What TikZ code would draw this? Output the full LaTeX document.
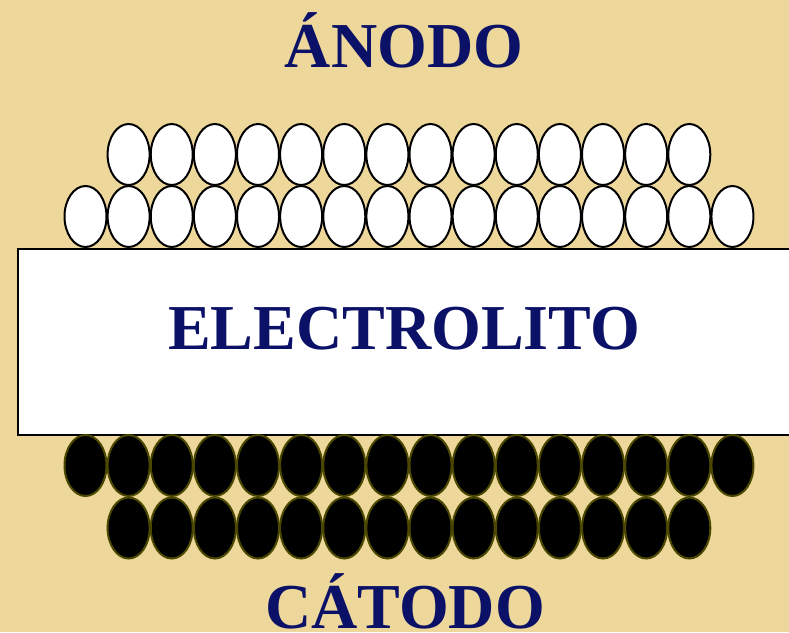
\documentclass[tikz,border=0pt]{standalone}
\usepackage{fontspec}
\setmainfont{Liberation Serif}
\usetikzlibrary{shapes.geometric}
\definecolor{bgtan}{HTML}{EDD79B}
\definecolor{txtblue}{HTML}{0A1166}
\definecolor{olive}{HTML}{4A4700}
\tikzset{
  whiteball/.style={ellipse, draw=black, line width=2pt, fill=white, minimum width=42pt, minimum height=61pt, inner sep=0pt},
  blackball/.style={ellipse, draw=olive, line width=2pt, fill=black, minimum width=42pt, minimum height=61pt, inner sep=0pt},
  label/.style={text=txtblue, font=\bfseries\fontsize{64pt}{64pt}\selectfont, anchor=base, inner sep=0pt}
}
\begin{document}
\begin{tikzpicture}[x=1pt,y=-1pt]
\fill[bgtan] (0,0) rectangle (789,632);
\useasboundingbox (0,0) rectangle (789,632);
\node[label] (anodo) at (404,67) {ÁNODO};
% white top rows
\foreach \i in {0,...,13} {
  \node[whiteball] (wa\i) at ({128.6+43.13*\i},154.5) {};
}
\foreach \i in {0,...,15} {
  \node[whiteball] (wb\i) at ({85.5+43.13*\i},216.5) {};
}
\node[draw=black, line width=2pt, fill=white, minimum width=786pt, minimum height=186pt, inner sep=0pt, anchor=north west] (elec) at (17,248) {};
\node[label] (electro) at (404,349) {ELECTROLITO};
\foreach \i in {0,...,15} {
  \node[blackball] (ba\i) at ({85.5+43.13*\i},465.5) {};
}
\foreach \i in {0,...,13} {
  \node[blackball] (bb\i) at ({128.6+43.13*\i},528) {};
}
\node[label] (catodo) at (405,628) {CÁTODO};
\end{tikzpicture}
\end{document}
